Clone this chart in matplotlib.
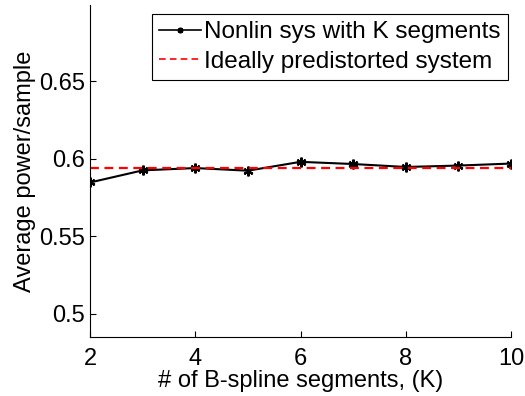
import matplotlib
matplotlib.use("Agg")
import matplotlib.pyplot as plt

plt.rcParams['font.family'] = ['Liberation Sans', 'DejaVu Sans']

# number of B-spline segments
segments = [2, 3, 4, 5, 6, 7, 8, 9, 10]
# average power/sample of the nonlinear system
nonlin_power = [0.5846, 0.5924, 0.5939, 0.5922, 0.5979, 0.5965, 0.5946, 0.5955, 0.5968]
# ideally predistorted system
ideal_power = 0.5942

fig = plt.figure(figsize=(5.25, 3.96), dpi=100)
ax = fig.add_axes([90/525, 1 - 337/396, 421/525, 332/396])

ax.plot(segments, nonlin_power, color='black', linewidth=1.5, marker=(6, 2, 0),
        markersize=7, markeredgewidth=1.6, label='Nonlin sys with K segments')
ax.plot([segments[0], segments[-1]], [ideal_power, ideal_power], color='red',
        linestyle=(0, (4, 2.5)), linewidth=1.6, label='Ideally predistorted system')

ax.set_xlim(2, 10)
ax.set_ylim(0.485, 0.699)
ax.set_xticks([2, 4, 6, 8, 10])
ax.set_yticks([0.5, 0.55, 0.6, 0.65])
ax.set_yticklabels(['0.5', '0.55', '0.6', '0.65'])

ax.spines['top'].set_visible(False)
ax.spines['right'].set_visible(False)
ax.tick_params(direction='in', length=4, labelsize=17)
ax.tick_params(axis='x', pad=8)
ax.tick_params(axis='y', pad=3.5)
ax.set_xlabel('# of B-spline segments, (K)', fontsize=17, labelpad=0)
ax.set_ylabel('Average power/sample', fontsize=17, labelpad=2)

leg = ax.legend(loc='upper right', fontsize=17.5, fancybox=False, framealpha=1,
                edgecolor='black', handlelength=1.7, handletextpad=0.15,
                borderpad=0.3, labelspacing=0.3, borderaxespad=0,
                bbox_to_anchor=(508/525, 1 - 14/396), bbox_transform=fig.transFigure)
leg.get_frame().set_linewidth(0.8)
for h in leg.get_lines():
    h.set_linewidth(1.2)
    h.set_markersize(4)

fig.savefig('out.png', dpi=100)
